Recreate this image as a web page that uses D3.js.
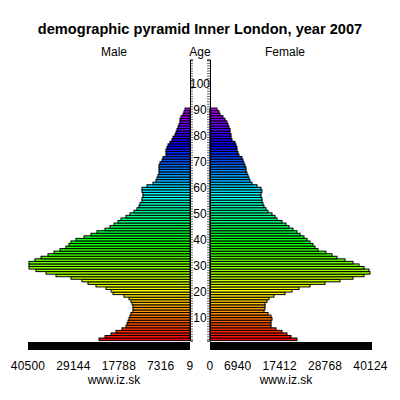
<!DOCTYPE html>
<html>
<head>
<meta charset="utf-8">
<script src="https://d3js.org/d3.v7.min.js"></script>
<style>
    body { margin: 0; background: #fff; }
    svg { display: block; }
    text { font-family: "Liberation Sans", sans-serif; fill: #000; }
</style>
</head>
<body>
<svg width="400" height="400"></svg>
<script>
    // population by single year of age, index = age
    const male = [22750, 21250, 19750, 18500, 17000, 16000, 15750, 15500, 15250, 15000,
        14750, 14250, 14250, 14250, 14500, 14750, 15250, 16500, 19250, 19750,
        21000, 23500, 25500, 27000, 29750, 33500, 36000, 38500, 40250, 40250,
        40250, 38750, 37250, 35500, 34000, 32500, 31000, 30250, 29750, 28500,
        26500, 24750, 23250, 21250, 20000, 19000, 18000, 17250, 16000, 15000,
        14000, 13250, 12750, 12500, 12000, 12000, 11750, 11750, 12000, 12000,
        10750, 9250, 8500, 8250, 8000, 7750, 7750, 7750, 7750, 7500,
        7000, 6750, 6000, 6000, 6000, 5750, 5500, 5000, 4500, 4250,
        3750, 3500, 3250, 3000, 2750, 2500, 2500, 2250, 1750, 1500, 1250];
    const female = [21750, 20250, 19250, 18000, 16500, 15250, 15250, 15250, 15500, 15250,
        14500, 13500, 13750, 13750, 13750, 14250, 14750, 16000, 18750, 20500,
        22250, 25000, 28750, 32500, 35750, 38500, 40000, 39750, 38500, 37250,
        35750, 33750, 31750, 30500, 29000, 27000, 26250, 25750, 25000, 24250,
        23500, 22500, 21750, 20750, 19750, 19000, 18000, 16750, 16250, 15500,
        14500, 14000, 13500, 13250, 13000, 13000, 12750, 12750, 13000, 12750,
        11750, 10500, 10000, 9750, 9500, 9250, 9000, 9000, 8750, 8500,
        8250, 8000, 7250, 7000, 6750, 6750, 6500, 6250, 5500, 5250,
        5250, 5000, 5000, 4750, 4500, 4250, 3750, 3250, 2500, 2250, 1750];
    const maleTicks = [40500, 29144, 17788, 7316, 9];
    const femaleTicks = [0, 6940, 17412, 28768, 40124];
    const ageLabels = [10, 20, 30, 40, 50, 60, 70, 80, 90, 100];
    const ages = d3.range(0, 110);
    const maxValue = 40500;

    const svg = d3.select("svg");

    const xMale = d3.scaleLinear().domain([0, maxValue]).range([190, 28]);
    const xFemale = d3.scaleLinear().domain([0, maxValue]).range([210, 372]);
    const y = d3.scaleBand().domain(ages).range([340.6, 59.5]);
    const yLabel = d3.scaleLinear().domain([10, 100]).range([317, 83.5]);
    const hue = d3.scaleLinear().domain([0, 90]).range([0, 285]);

    function drawSide(values, x, left) {
        svg.append("g")
            .selectAll("rect")
            .data(values)
            .enter().append("rect")
            .attr("x", d => left ? x(d) : x(0))
            .attr("y", (d, i) => y(i))
            .attr("width", d => left ? x(0) - x(d) : x(d) - x(0))
            .attr("height", y.bandwidth())
            .attr("fill", (d, i) => d3.hsl(hue(i), 1, 0.5))
            .attr("stroke", "#000")
            .attr("stroke-width", 1);

        // the black base under each half
        svg.append("rect")
            .attr("x", left ? x(maxValue) : x(0))
            .attr("y", 342)
            .attr("width", Math.abs(x(maxValue) - x(0)))
            .attr("height", 8)
            .attr("fill", "#000");
    }

    drawSide(male, xMale, true);
    drawSide(female, xFemale, false);

    // age axes, ticks point into the gap
    svg.append("g")
        .attr("transform", "translate(190,0)")
        .call(d3.axisRight(y).tickValues(ages).tickSize(3).tickFormat(""));
    svg.append("g")
        .attr("transform", "translate(210,0)")
        .call(d3.axisLeft(y).tickValues(ages).tickSize(3).tickFormat(""));
    svg.selectAll(".domain").attr("stroke-width", 1);
    svg.selectAll(".tick line").attr("stroke-width", 0.6);

    svg.append("g")
        .selectAll("text")
        .data(ageLabels)
        .enter().append("text")
        .attr("x", 200)
        .attr("y", d => yLabel(d) + 4.5)
        .attr("text-anchor", "middle")
        .style("font-size", "12px")
        .text(d => d);

    function valueLabels(ticks, x) {
        svg.append("g")
            .selectAll("text")
            .data(ticks)
            .enter().append("text")
            .attr("x", d => x(d))
            .attr("y", 370)
            .attr("text-anchor", "middle")
            .style("font-size", "12px")
            .style("letter-spacing", "0.2px")
            .text(d => d);
    }

    valueLabels(maleTicks, xMale);
    valueLabels(femaleTicks, xFemale);

    svg.append("text")
        .attr("x", 200)
        .attr("y", 34)
        .attr("text-anchor", "middle")
        .style("font-size", "14.6px")
        .style("font-weight", "bold")
        .text("demographic pyramid Inner London, year 2007");

    svg.append("text").attr("x", 114).attr("y", 56).attr("text-anchor", "middle")
        .style("font-size", "12px").text("Male");
    svg.append("text").attr("x", 200).attr("y", 56).attr("text-anchor", "middle")
        .style("font-size", "12px").text("Age");
    svg.append("text").attr("x", 285).attr("y", 56).attr("text-anchor", "middle")
        .style("font-size", "12px").text("Female");

    svg.append("text").attr("x", 114).attr("y", 384).attr("text-anchor", "middle")
        .style("font-size", "12px").text("www.iz.sk");
    svg.append("text").attr("x", 286).attr("y", 384).attr("text-anchor", "middle")
        .style("font-size", "12px").text("www.iz.sk");
</script>
</body>
</html>
